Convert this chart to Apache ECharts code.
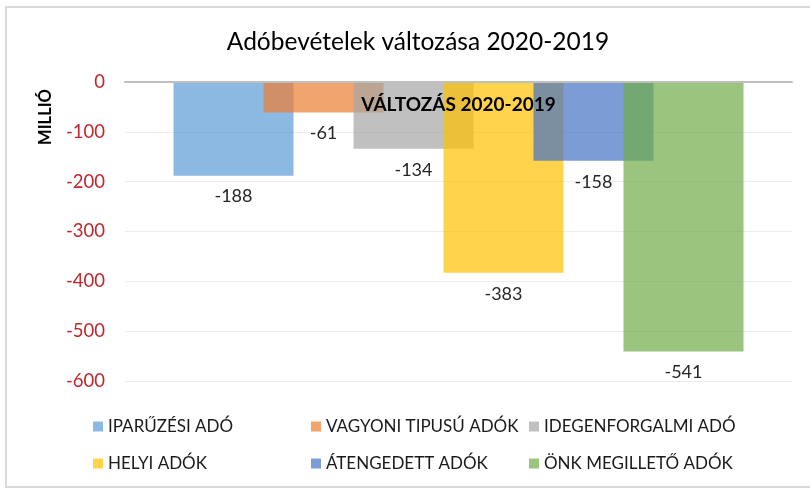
<!DOCTYPE html>
<html><head><meta charset="utf-8">
<script src="https://cdn.jsdelivr.net/npm/echarts@6/dist/echarts.min.js"></script>
<style>html,body{margin:0;padding:0;background:#fff}#c{width:810px;height:496px}</style>
</head><body><div id="c"></div>
<script>
const categories = ['VÁLTOZÁS 2020-2019'];
const seriesNames = ['IPARŰZÉSI ADÓ','VAGYONI TIPUSÚ ADÓK','IDEGENFORGALMI ADÓ','HELYI ADÓK','ÁTENGEDETT ADÓK','ÖNK MEGILLETŐ ADÓK'];
const seriesValues = [-188, -61, -134, -383, -158, -541];
const colors = ['rgba(91,155,213,0.7)','rgba(237,125,49,0.7)','rgba(165,165,165,0.7)','rgba(255,192,0,0.7)','rgba(68,114,196,0.7)','rgba(112,173,71,0.7)'];
const yTicks = [0,-100,-200,-300,-400,-500,-600];

const FONT = 'Lato, sans-serif';
const chart = echarts.init(document.getElementById('c'));
const legendCols = [[0,3],[1,4],[2,5]];
const legendLeft = [93, 311, 529];
chart.setOption({
  animation: false,
  title: {text: 'Adóbevételek változása 2020-2019', left: 413, textAlign: 'center', top: 25,
    textStyle: {fontFamily: FONT, fontSize: 24.5, fontWeight: 'normal', color: '#000'}},
  graphic: [
    {type: 'rect', shape: {x: 6, y: 7, width: 820, height: 480}, style: {fill: 'none', stroke: '#d9d9d9', lineWidth: 2}, z: -10},
    {type: 'text', x: 46, y: 117, rotation: Math.PI/2, style: {text: 'MILLIÓ', fontFamily: FONT, fontSize: 16.5, fontWeight: 'bold', fill: '#000', align: 'center', verticalAlign: 'middle'}}
  ],
  legend: legendCols.map((col, i) => ({
    orient: 'vertical', left: legendLeft[i], top: 418, itemGap: 20, itemWidth: 10, itemHeight: 10,
    icon: 'rect', data: col.map(k => seriesNames[k]), padding: 0,
    textStyle: {fontFamily: FONT, fontSize: 17, color: '#1a1a1a'}
  })),
  grid: {left: 125, right: 18, top: 82, bottom: 115},
  xAxis: {type: 'category', data: categories, z: 10, position: 'top',
    axisLine: {lineStyle: {color: '#bfbfbf', width: 2}},
    axisTick: {show: false},
    axisLabel: {inside: true, margin: 13, fontFamily: FONT, fontSize: 19, fontWeight: 'bold', color: '#000'}},
  yAxis: {type: 'value', min: -600, max: 0, interval: 100,
    axisLine: {show: false}, axisTick: {show: false},
    splitLine: {lineStyle: {color: '#ececec', width: 1}},
    axisLabel: {margin: 20, fontFamily: FONT, fontSize: 18.5, color: '#c0282d',
      customValues: yTicks}},
  series: seriesNames.map((n, i) => ({
    name: n, type: 'bar', data: [seriesValues[i]], barWidth: 120, barGap: '-25%',
    itemStyle: {color: colors[i]},
    label: {show: true, position: 'bottom', distance: 12, fontFamily: FONT, fontSize: 18, color: '#262626'}
  }))
});
</script></body></html>
